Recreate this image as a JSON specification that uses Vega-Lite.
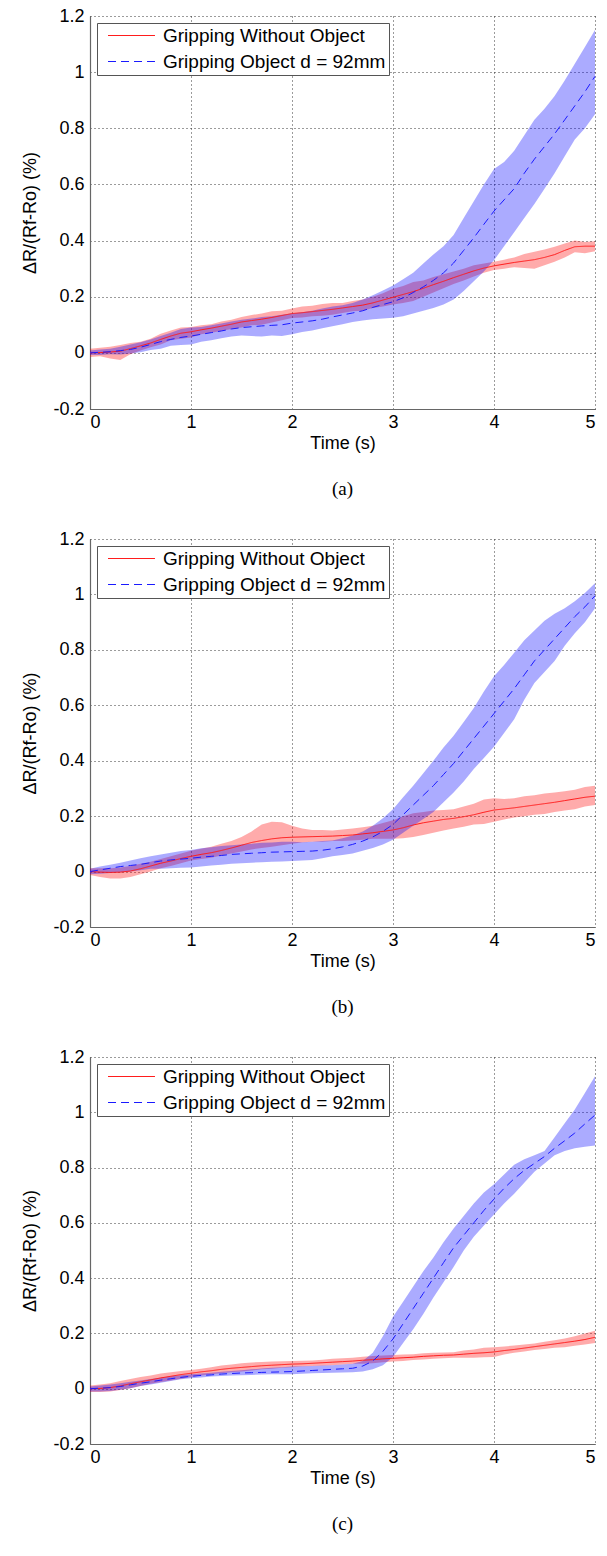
{
  "$schema": "https://vega.github.io/schema/vega-lite/v6.json",
  "padding": {"left": 21, "top": 7, "right": 5, "bottom": 5},
  "spacing": 31,
  "datasets": {
    "d": [
      {"p":"a","s":"Gripping Without Object","t":0.0,"m":0.000,"lo":-0.015,"hi":0.015},
      {"p":"a","s":"Gripping Without Object","t":0.1,"m":0.001,"lo":-0.012,"hi":0.018},
      {"p":"a","s":"Gripping Without Object","t":0.2,"m":0.003,"lo":-0.020,"hi":0.022},
      {"p":"a","s":"Gripping Without Object","t":0.3,"m":0.006,"lo":-0.025,"hi":0.028},
      {"p":"a","s":"Gripping Without Object","t":0.4,"m":0.015,"lo":-0.005,"hi":0.035},
      {"p":"a","s":"Gripping Without Object","t":0.5,"m":0.025,"lo":0.008,"hi":0.040},
      {"p":"a","s":"Gripping Without Object","t":0.6,"m":0.035,"lo":0.020,"hi":0.050},
      {"p":"a","s":"Gripping Without Object","t":0.7,"m":0.048,"lo":0.030,"hi":0.068},
      {"p":"a","s":"Gripping Without Object","t":0.8,"m":0.060,"lo":0.045,"hi":0.080},
      {"p":"a","s":"Gripping Without Object","t":0.9,"m":0.070,"lo":0.050,"hi":0.090},
      {"p":"a","s":"Gripping Without Object","t":1.0,"m":0.075,"lo":0.055,"hi":0.092},
      {"p":"a","s":"Gripping Without Object","t":1.1,"m":0.082,"lo":0.066,"hi":0.098},
      {"p":"a","s":"Gripping Without Object","t":1.2,"m":0.088,"lo":0.072,"hi":0.102},
      {"p":"a","s":"Gripping Without Object","t":1.3,"m":0.095,"lo":0.078,"hi":0.112},
      {"p":"a","s":"Gripping Without Object","t":1.4,"m":0.102,"lo":0.085,"hi":0.118},
      {"p":"a","s":"Gripping Without Object","t":1.5,"m":0.110,"lo":0.090,"hi":0.128},
      {"p":"a","s":"Gripping Without Object","t":1.6,"m":0.115,"lo":0.098,"hi":0.135},
      {"p":"a","s":"Gripping Without Object","t":1.7,"m":0.120,"lo":0.100,"hi":0.140},
      {"p":"a","s":"Gripping Without Object","t":1.8,"m":0.126,"lo":0.108,"hi":0.148},
      {"p":"a","s":"Gripping Without Object","t":1.9,"m":0.133,"lo":0.116,"hi":0.150},
      {"p":"a","s":"Gripping Without Object","t":2.0,"m":0.140,"lo":0.124,"hi":0.158},
      {"p":"a","s":"Gripping Without Object","t":2.1,"m":0.143,"lo":0.126,"hi":0.165},
      {"p":"a","s":"Gripping Without Object","t":2.2,"m":0.147,"lo":0.130,"hi":0.168},
      {"p":"a","s":"Gripping Without Object","t":2.3,"m":0.151,"lo":0.132,"hi":0.174},
      {"p":"a","s":"Gripping Without Object","t":2.4,"m":0.155,"lo":0.136,"hi":0.178},
      {"p":"a","s":"Gripping Without Object","t":2.5,"m":0.160,"lo":0.142,"hi":0.178},
      {"p":"a","s":"Gripping Without Object","t":2.6,"m":0.165,"lo":0.148,"hi":0.185},
      {"p":"a","s":"Gripping Without Object","t":2.7,"m":0.170,"lo":0.150,"hi":0.190},
      {"p":"a","s":"Gripping Without Object","t":2.8,"m":0.178,"lo":0.160,"hi":0.200},
      {"p":"a","s":"Gripping Without Object","t":2.9,"m":0.188,"lo":0.165,"hi":0.212},
      {"p":"a","s":"Gripping Without Object","t":3.0,"m":0.198,"lo":0.172,"hi":0.228},
      {"p":"a","s":"Gripping Without Object","t":3.1,"m":0.208,"lo":0.178,"hi":0.238},
      {"p":"a","s":"Gripping Without Object","t":3.2,"m":0.218,"lo":0.185,"hi":0.252},
      {"p":"a","s":"Gripping Without Object","t":3.3,"m":0.230,"lo":0.200,"hi":0.258},
      {"p":"a","s":"Gripping Without Object","t":3.4,"m":0.243,"lo":0.215,"hi":0.270},
      {"p":"a","s":"Gripping Without Object","t":3.5,"m":0.255,"lo":0.230,"hi":0.280},
      {"p":"a","s":"Gripping Without Object","t":3.6,"m":0.268,"lo":0.245,"hi":0.290},
      {"p":"a","s":"Gripping Without Object","t":3.7,"m":0.280,"lo":0.258,"hi":0.300},
      {"p":"a","s":"Gripping Without Object","t":3.8,"m":0.292,"lo":0.272,"hi":0.312},
      {"p":"a","s":"Gripping Without Object","t":3.9,"m":0.302,"lo":0.285,"hi":0.318},
      {"p":"a","s":"Gripping Without Object","t":4.0,"m":0.310,"lo":0.295,"hi":0.325},
      {"p":"a","s":"Gripping Without Object","t":4.1,"m":0.316,"lo":0.300,"hi":0.332},
      {"p":"a","s":"Gripping Without Object","t":4.2,"m":0.322,"lo":0.305,"hi":0.340},
      {"p":"a","s":"Gripping Without Object","t":4.3,"m":0.327,"lo":0.302,"hi":0.352},
      {"p":"a","s":"Gripping Without Object","t":4.4,"m":0.332,"lo":0.300,"hi":0.360},
      {"p":"a","s":"Gripping Without Object","t":4.5,"m":0.340,"lo":0.312,"hi":0.368},
      {"p":"a","s":"Gripping Without Object","t":4.6,"m":0.350,"lo":0.325,"hi":0.378},
      {"p":"a","s":"Gripping Without Object","t":4.7,"m":0.365,"lo":0.340,"hi":0.390},
      {"p":"a","s":"Gripping Without Object","t":4.8,"m":0.378,"lo":0.358,"hi":0.400},
      {"p":"a","s":"Gripping Without Object","t":4.9,"m":0.380,"lo":0.355,"hi":0.395},
      {"p":"a","s":"Gripping Without Object","t":5.0,"m":0.380,"lo":0.362,"hi":0.398},
      {"p":"a","s":"Gripping Object d = 92mm","t":0.0,"m":0.000,"lo":-0.008,"hi":0.008},
      {"p":"a","s":"Gripping Object d = 92mm","t":0.1,"m":0.002,"lo":-0.008,"hi":0.012},
      {"p":"a","s":"Gripping Object d = 92mm","t":0.2,"m":0.004,"lo":-0.005,"hi":0.015},
      {"p":"a","s":"Gripping Object d = 92mm","t":0.3,"m":0.008,"lo":-0.006,"hi":0.022},
      {"p":"a","s":"Gripping Object d = 92mm","t":0.4,"m":0.012,"lo":-0.002,"hi":0.030},
      {"p":"a","s":"Gripping Object d = 92mm","t":0.5,"m":0.020,"lo":0.002,"hi":0.038},
      {"p":"a","s":"Gripping Object d = 92mm","t":0.6,"m":0.030,"lo":0.010,"hi":0.048},
      {"p":"a","s":"Gripping Object d = 92mm","t":0.7,"m":0.040,"lo":0.015,"hi":0.060},
      {"p":"a","s":"Gripping Object d = 92mm","t":0.8,"m":0.048,"lo":0.025,"hi":0.072},
      {"p":"a","s":"Gripping Object d = 92mm","t":0.9,"m":0.055,"lo":0.028,"hi":0.085},
      {"p":"a","s":"Gripping Object d = 92mm","t":1.0,"m":0.060,"lo":0.030,"hi":0.090},
      {"p":"a","s":"Gripping Object d = 92mm","t":1.1,"m":0.066,"lo":0.040,"hi":0.092},
      {"p":"a","s":"Gripping Object d = 92mm","t":1.2,"m":0.072,"lo":0.045,"hi":0.098},
      {"p":"a","s":"Gripping Object d = 92mm","t":1.3,"m":0.078,"lo":0.052,"hi":0.105},
      {"p":"a","s":"Gripping Object d = 92mm","t":1.4,"m":0.085,"lo":0.058,"hi":0.112},
      {"p":"a","s":"Gripping Object d = 92mm","t":1.5,"m":0.090,"lo":0.062,"hi":0.118},
      {"p":"a","s":"Gripping Object d = 92mm","t":1.6,"m":0.093,"lo":0.060,"hi":0.122},
      {"p":"a","s":"Gripping Object d = 92mm","t":1.7,"m":0.096,"lo":0.058,"hi":0.128},
      {"p":"a","s":"Gripping Object d = 92mm","t":1.8,"m":0.098,"lo":0.062,"hi":0.130},
      {"p":"a","s":"Gripping Object d = 92mm","t":1.9,"m":0.100,"lo":0.060,"hi":0.136},
      {"p":"a","s":"Gripping Object d = 92mm","t":2.0,"m":0.106,"lo":0.066,"hi":0.140},
      {"p":"a","s":"Gripping Object d = 92mm","t":2.1,"m":0.110,"lo":0.074,"hi":0.145},
      {"p":"a","s":"Gripping Object d = 92mm","t":2.2,"m":0.114,"lo":0.080,"hi":0.150},
      {"p":"a","s":"Gripping Object d = 92mm","t":2.3,"m":0.120,"lo":0.088,"hi":0.158},
      {"p":"a","s":"Gripping Object d = 92mm","t":2.4,"m":0.128,"lo":0.095,"hi":0.165},
      {"p":"a","s":"Gripping Object d = 92mm","t":2.5,"m":0.135,"lo":0.102,"hi":0.170},
      {"p":"a","s":"Gripping Object d = 92mm","t":2.6,"m":0.142,"lo":0.110,"hi":0.178},
      {"p":"a","s":"Gripping Object d = 92mm","t":2.7,"m":0.150,"lo":0.115,"hi":0.190},
      {"p":"a","s":"Gripping Object d = 92mm","t":2.8,"m":0.162,"lo":0.120,"hi":0.205},
      {"p":"a","s":"Gripping Object d = 92mm","t":2.9,"m":0.172,"lo":0.122,"hi":0.222},
      {"p":"a","s":"Gripping Object d = 92mm","t":3.0,"m":0.182,"lo":0.125,"hi":0.240},
      {"p":"a","s":"Gripping Object d = 92mm","t":3.1,"m":0.196,"lo":0.130,"hi":0.262},
      {"p":"a","s":"Gripping Object d = 92mm","t":3.2,"m":0.215,"lo":0.140,"hi":0.285},
      {"p":"a","s":"Gripping Object d = 92mm","t":3.3,"m":0.235,"lo":0.150,"hi":0.318},
      {"p":"a","s":"Gripping Object d = 92mm","t":3.4,"m":0.258,"lo":0.160,"hi":0.350},
      {"p":"a","s":"Gripping Object d = 92mm","t":3.5,"m":0.285,"lo":0.172,"hi":0.380},
      {"p":"a","s":"Gripping Object d = 92mm","t":3.6,"m":0.320,"lo":0.190,"hi":0.420},
      {"p":"a","s":"Gripping Object d = 92mm","t":3.7,"m":0.365,"lo":0.220,"hi":0.480},
      {"p":"a","s":"Gripping Object d = 92mm","t":3.8,"m":0.410,"lo":0.255,"hi":0.540},
      {"p":"a","s":"Gripping Object d = 92mm","t":3.9,"m":0.458,"lo":0.290,"hi":0.600},
      {"p":"a","s":"Gripping Object d = 92mm","t":4.0,"m":0.505,"lo":0.330,"hi":0.655},
      {"p":"a","s":"Gripping Object d = 92mm","t":4.1,"m":0.545,"lo":0.380,"hi":0.680},
      {"p":"a","s":"Gripping Object d = 92mm","t":4.2,"m":0.585,"lo":0.430,"hi":0.720},
      {"p":"a","s":"Gripping Object d = 92mm","t":4.3,"m":0.640,"lo":0.480,"hi":0.775},
      {"p":"a","s":"Gripping Object d = 92mm","t":4.4,"m":0.690,"lo":0.530,"hi":0.830},
      {"p":"a","s":"Gripping Object d = 92mm","t":4.5,"m":0.735,"lo":0.585,"hi":0.870},
      {"p":"a","s":"Gripping Object d = 92mm","t":4.6,"m":0.780,"lo":0.640,"hi":0.915},
      {"p":"a","s":"Gripping Object d = 92mm","t":4.7,"m":0.830,"lo":0.700,"hi":0.970},
      {"p":"a","s":"Gripping Object d = 92mm","t":4.8,"m":0.880,"lo":0.760,"hi":1.030},
      {"p":"a","s":"Gripping Object d = 92mm","t":4.9,"m":0.930,"lo":0.800,"hi":1.090},
      {"p":"a","s":"Gripping Object d = 92mm","t":5.0,"m":0.985,"lo":0.850,"hi":1.150},
      {"p":"b","s":"Gripping Without Object","t":0.0,"m":0.000,"lo":-0.012,"hi":0.012},
      {"p":"b","s":"Gripping Without Object","t":0.1,"m":-0.002,"lo":-0.020,"hi":0.012},
      {"p":"b","s":"Gripping Without Object","t":0.2,"m":-0.003,"lo":-0.025,"hi":0.012},
      {"p":"b","s":"Gripping Without Object","t":0.3,"m":-0.002,"lo":-0.025,"hi":0.015},
      {"p":"b","s":"Gripping Without Object","t":0.4,"m":0.002,"lo":-0.020,"hi":0.020},
      {"p":"b","s":"Gripping Without Object","t":0.5,"m":0.010,"lo":-0.010,"hi":0.028},
      {"p":"b","s":"Gripping Without Object","t":0.6,"m":0.020,"lo":0.000,"hi":0.035},
      {"p":"b","s":"Gripping Without Object","t":0.7,"m":0.030,"lo":0.012,"hi":0.045},
      {"p":"b","s":"Gripping Without Object","t":0.8,"m":0.038,"lo":0.020,"hi":0.055},
      {"p":"b","s":"Gripping Without Object","t":0.9,"m":0.047,"lo":0.030,"hi":0.065},
      {"p":"b","s":"Gripping Without Object","t":1.0,"m":0.055,"lo":0.040,"hi":0.075},
      {"p":"b","s":"Gripping Without Object","t":1.1,"m":0.062,"lo":0.045,"hi":0.082},
      {"p":"b","s":"Gripping Without Object","t":1.2,"m":0.068,"lo":0.050,"hi":0.090},
      {"p":"b","s":"Gripping Without Object","t":1.3,"m":0.076,"lo":0.058,"hi":0.100},
      {"p":"b","s":"Gripping Without Object","t":1.4,"m":0.085,"lo":0.065,"hi":0.110},
      {"p":"b","s":"Gripping Without Object","t":1.5,"m":0.095,"lo":0.072,"hi":0.125},
      {"p":"b","s":"Gripping Without Object","t":1.6,"m":0.105,"lo":0.080,"hi":0.145},
      {"p":"b","s":"Gripping Without Object","t":1.7,"m":0.112,"lo":0.085,"hi":0.170},
      {"p":"b","s":"Gripping Without Object","t":1.8,"m":0.118,"lo":0.090,"hi":0.180},
      {"p":"b","s":"Gripping Without Object","t":1.9,"m":0.122,"lo":0.095,"hi":0.178},
      {"p":"b","s":"Gripping Without Object","t":2.0,"m":0.124,"lo":0.100,"hi":0.165},
      {"p":"b","s":"Gripping Without Object","t":2.1,"m":0.125,"lo":0.105,"hi":0.155},
      {"p":"b","s":"Gripping Without Object","t":2.2,"m":0.126,"lo":0.108,"hi":0.150},
      {"p":"b","s":"Gripping Without Object","t":2.3,"m":0.127,"lo":0.108,"hi":0.150},
      {"p":"b","s":"Gripping Without Object","t":2.4,"m":0.128,"lo":0.110,"hi":0.148},
      {"p":"b","s":"Gripping Without Object","t":2.5,"m":0.130,"lo":0.110,"hi":0.152},
      {"p":"b","s":"Gripping Without Object","t":2.6,"m":0.132,"lo":0.112,"hi":0.155},
      {"p":"b","s":"Gripping Without Object","t":2.7,"m":0.136,"lo":0.115,"hi":0.160},
      {"p":"b","s":"Gripping Without Object","t":2.8,"m":0.140,"lo":0.118,"hi":0.165},
      {"p":"b","s":"Gripping Without Object","t":2.9,"m":0.145,"lo":0.118,"hi":0.175},
      {"p":"b","s":"Gripping Without Object","t":3.0,"m":0.150,"lo":0.118,"hi":0.185},
      {"p":"b","s":"Gripping Without Object","t":3.1,"m":0.158,"lo":0.120,"hi":0.200},
      {"p":"b","s":"Gripping Without Object","t":3.2,"m":0.168,"lo":0.125,"hi":0.210},
      {"p":"b","s":"Gripping Without Object","t":3.3,"m":0.176,"lo":0.132,"hi":0.215},
      {"p":"b","s":"Gripping Without Object","t":3.4,"m":0.182,"lo":0.140,"hi":0.220},
      {"p":"b","s":"Gripping Without Object","t":3.5,"m":0.188,"lo":0.148,"hi":0.222},
      {"p":"b","s":"Gripping Without Object","t":3.6,"m":0.192,"lo":0.155,"hi":0.225},
      {"p":"b","s":"Gripping Without Object","t":3.7,"m":0.198,"lo":0.162,"hi":0.235},
      {"p":"b","s":"Gripping Without Object","t":3.8,"m":0.205,"lo":0.170,"hi":0.245},
      {"p":"b","s":"Gripping Without Object","t":3.9,"m":0.214,"lo":0.172,"hi":0.260},
      {"p":"b","s":"Gripping Without Object","t":4.0,"m":0.222,"lo":0.180,"hi":0.265},
      {"p":"b","s":"Gripping Without Object","t":4.1,"m":0.226,"lo":0.188,"hi":0.262},
      {"p":"b","s":"Gripping Without Object","t":4.2,"m":0.230,"lo":0.195,"hi":0.265},
      {"p":"b","s":"Gripping Without Object","t":4.3,"m":0.235,"lo":0.200,"hi":0.272},
      {"p":"b","s":"Gripping Without Object","t":4.4,"m":0.240,"lo":0.205,"hi":0.275},
      {"p":"b","s":"Gripping Without Object","t":4.5,"m":0.245,"lo":0.208,"hi":0.282},
      {"p":"b","s":"Gripping Without Object","t":4.6,"m":0.250,"lo":0.215,"hi":0.285},
      {"p":"b","s":"Gripping Without Object","t":4.7,"m":0.256,"lo":0.220,"hi":0.290},
      {"p":"b","s":"Gripping Without Object","t":4.8,"m":0.262,"lo":0.225,"hi":0.295},
      {"p":"b","s":"Gripping Without Object","t":4.9,"m":0.268,"lo":0.235,"hi":0.305},
      {"p":"b","s":"Gripping Without Object","t":5.0,"m":0.272,"lo":0.240,"hi":0.310},
      {"p":"b","s":"Gripping Object d = 92mm","t":0.0,"m":0.000,"lo":-0.010,"hi":0.010},
      {"p":"b","s":"Gripping Object d = 92mm","t":0.1,"m":0.006,"lo":-0.008,"hi":0.018},
      {"p":"b","s":"Gripping Object d = 92mm","t":0.2,"m":0.012,"lo":-0.005,"hi":0.025},
      {"p":"b","s":"Gripping Object d = 92mm","t":0.3,"m":0.018,"lo":-0.002,"hi":0.032},
      {"p":"b","s":"Gripping Object d = 92mm","t":0.4,"m":0.022,"lo":0.000,"hi":0.040},
      {"p":"b","s":"Gripping Object d = 92mm","t":0.5,"m":0.026,"lo":0.005,"hi":0.048},
      {"p":"b","s":"Gripping Object d = 92mm","t":0.6,"m":0.032,"lo":0.010,"hi":0.055},
      {"p":"b","s":"Gripping Object d = 92mm","t":0.7,"m":0.038,"lo":0.010,"hi":0.062},
      {"p":"b","s":"Gripping Object d = 92mm","t":0.8,"m":0.042,"lo":0.012,"hi":0.068},
      {"p":"b","s":"Gripping Object d = 92mm","t":0.9,"m":0.045,"lo":0.014,"hi":0.074},
      {"p":"b","s":"Gripping Object d = 92mm","t":1.0,"m":0.048,"lo":0.015,"hi":0.078},
      {"p":"b","s":"Gripping Object d = 92mm","t":1.1,"m":0.052,"lo":0.018,"hi":0.084},
      {"p":"b","s":"Gripping Object d = 92mm","t":1.2,"m":0.055,"lo":0.022,"hi":0.088},
      {"p":"b","s":"Gripping Object d = 92mm","t":1.3,"m":0.058,"lo":0.025,"hi":0.092},
      {"p":"b","s":"Gripping Object d = 92mm","t":1.4,"m":0.062,"lo":0.028,"hi":0.095},
      {"p":"b","s":"Gripping Object d = 92mm","t":1.5,"m":0.064,"lo":0.030,"hi":0.098},
      {"p":"b","s":"Gripping Object d = 92mm","t":1.6,"m":0.066,"lo":0.032,"hi":0.100},
      {"p":"b","s":"Gripping Object d = 92mm","t":1.7,"m":0.068,"lo":0.034,"hi":0.104},
      {"p":"b","s":"Gripping Object d = 92mm","t":1.8,"m":0.070,"lo":0.035,"hi":0.105},
      {"p":"b","s":"Gripping Object d = 92mm","t":1.9,"m":0.071,"lo":0.036,"hi":0.108},
      {"p":"b","s":"Gripping Object d = 92mm","t":2.0,"m":0.072,"lo":0.038,"hi":0.108},
      {"p":"b","s":"Gripping Object d = 92mm","t":2.1,"m":0.073,"lo":0.040,"hi":0.106},
      {"p":"b","s":"Gripping Object d = 92mm","t":2.2,"m":0.074,"lo":0.042,"hi":0.108},
      {"p":"b","s":"Gripping Object d = 92mm","t":2.3,"m":0.077,"lo":0.048,"hi":0.110},
      {"p":"b","s":"Gripping Object d = 92mm","t":2.4,"m":0.082,"lo":0.055,"hi":0.112},
      {"p":"b","s":"Gripping Object d = 92mm","t":2.5,"m":0.089,"lo":0.060,"hi":0.120},
      {"p":"b","s":"Gripping Object d = 92mm","t":2.6,"m":0.098,"lo":0.065,"hi":0.130},
      {"p":"b","s":"Gripping Object d = 92mm","t":2.7,"m":0.110,"lo":0.075,"hi":0.145},
      {"p":"b","s":"Gripping Object d = 92mm","t":2.8,"m":0.125,"lo":0.085,"hi":0.165},
      {"p":"b","s":"Gripping Object d = 92mm","t":2.9,"m":0.145,"lo":0.098,"hi":0.192},
      {"p":"b","s":"Gripping Object d = 92mm","t":3.0,"m":0.170,"lo":0.115,"hi":0.225},
      {"p":"b","s":"Gripping Object d = 92mm","t":3.1,"m":0.205,"lo":0.140,"hi":0.268},
      {"p":"b","s":"Gripping Object d = 92mm","t":3.2,"m":0.240,"lo":0.165,"hi":0.310},
      {"p":"b","s":"Gripping Object d = 92mm","t":3.3,"m":0.275,"lo":0.190,"hi":0.355},
      {"p":"b","s":"Gripping Object d = 92mm","t":3.4,"m":0.310,"lo":0.215,"hi":0.400},
      {"p":"b","s":"Gripping Object d = 92mm","t":3.5,"m":0.350,"lo":0.250,"hi":0.448},
      {"p":"b","s":"Gripping Object d = 92mm","t":3.6,"m":0.390,"lo":0.285,"hi":0.490},
      {"p":"b","s":"Gripping Object d = 92mm","t":3.7,"m":0.435,"lo":0.325,"hi":0.540},
      {"p":"b","s":"Gripping Object d = 92mm","t":3.8,"m":0.480,"lo":0.370,"hi":0.590},
      {"p":"b","s":"Gripping Object d = 92mm","t":3.9,"m":0.525,"lo":0.410,"hi":0.650},
      {"p":"b","s":"Gripping Object d = 92mm","t":4.0,"m":0.570,"lo":0.450,"hi":0.705},
      {"p":"b","s":"Gripping Object d = 92mm","t":4.1,"m":0.615,"lo":0.500,"hi":0.745},
      {"p":"b","s":"Gripping Object d = 92mm","t":4.2,"m":0.660,"lo":0.550,"hi":0.790},
      {"p":"b","s":"Gripping Object d = 92mm","t":4.3,"m":0.710,"lo":0.620,"hi":0.835},
      {"p":"b","s":"Gripping Object d = 92mm","t":4.4,"m":0.760,"lo":0.680,"hi":0.870},
      {"p":"b","s":"Gripping Object d = 92mm","t":4.5,"m":0.800,"lo":0.720,"hi":0.905},
      {"p":"b","s":"Gripping Object d = 92mm","t":4.6,"m":0.840,"lo":0.760,"hi":0.930},
      {"p":"b","s":"Gripping Object d = 92mm","t":4.7,"m":0.880,"lo":0.815,"hi":0.950},
      {"p":"b","s":"Gripping Object d = 92mm","t":4.8,"m":0.920,"lo":0.860,"hi":0.975},
      {"p":"b","s":"Gripping Object d = 92mm","t":4.9,"m":0.955,"lo":0.900,"hi":1.005},
      {"p":"b","s":"Gripping Object d = 92mm","t":5.0,"m":0.995,"lo":0.950,"hi":1.040},
      {"p":"c","s":"Gripping Without Object","t":0.0,"m":0.000,"lo":-0.012,"hi":0.012},
      {"p":"c","s":"Gripping Without Object","t":0.1,"m":0.001,"lo":-0.012,"hi":0.015},
      {"p":"c","s":"Gripping Without Object","t":0.2,"m":0.004,"lo":-0.010,"hi":0.020},
      {"p":"c","s":"Gripping Without Object","t":0.3,"m":0.010,"lo":-0.005,"hi":0.028},
      {"p":"c","s":"Gripping Without Object","t":0.4,"m":0.018,"lo":0.002,"hi":0.035},
      {"p":"c","s":"Gripping Without Object","t":0.5,"m":0.025,"lo":0.010,"hi":0.042},
      {"p":"c","s":"Gripping Without Object","t":0.6,"m":0.032,"lo":0.018,"hi":0.048},
      {"p":"c","s":"Gripping Without Object","t":0.7,"m":0.039,"lo":0.024,"hi":0.055},
      {"p":"c","s":"Gripping Without Object","t":0.8,"m":0.045,"lo":0.030,"hi":0.060},
      {"p":"c","s":"Gripping Without Object","t":0.9,"m":0.051,"lo":0.036,"hi":0.064},
      {"p":"c","s":"Gripping Without Object","t":1.0,"m":0.056,"lo":0.042,"hi":0.068},
      {"p":"c","s":"Gripping Without Object","t":1.1,"m":0.061,"lo":0.048,"hi":0.072},
      {"p":"c","s":"Gripping Without Object","t":1.2,"m":0.065,"lo":0.052,"hi":0.078},
      {"p":"c","s":"Gripping Without Object","t":1.3,"m":0.070,"lo":0.056,"hi":0.084},
      {"p":"c","s":"Gripping Without Object","t":1.4,"m":0.074,"lo":0.060,"hi":0.088},
      {"p":"c","s":"Gripping Without Object","t":1.5,"m":0.077,"lo":0.062,"hi":0.092},
      {"p":"c","s":"Gripping Without Object","t":1.6,"m":0.080,"lo":0.066,"hi":0.095},
      {"p":"c","s":"Gripping Without Object","t":1.7,"m":0.083,"lo":0.070,"hi":0.097},
      {"p":"c","s":"Gripping Without Object","t":1.8,"m":0.085,"lo":0.072,"hi":0.098},
      {"p":"c","s":"Gripping Without Object","t":1.9,"m":0.087,"lo":0.076,"hi":0.099},
      {"p":"c","s":"Gripping Without Object","t":2.0,"m":0.089,"lo":0.078,"hi":0.100},
      {"p":"c","s":"Gripping Without Object","t":2.1,"m":0.090,"lo":0.080,"hi":0.101},
      {"p":"c","s":"Gripping Without Object","t":2.2,"m":0.092,"lo":0.082,"hi":0.102},
      {"p":"c","s":"Gripping Without Object","t":2.3,"m":0.094,"lo":0.083,"hi":0.105},
      {"p":"c","s":"Gripping Without Object","t":2.4,"m":0.096,"lo":0.085,"hi":0.108},
      {"p":"c","s":"Gripping Without Object","t":2.5,"m":0.098,"lo":0.088,"hi":0.110},
      {"p":"c","s":"Gripping Without Object","t":2.6,"m":0.100,"lo":0.090,"hi":0.112},
      {"p":"c","s":"Gripping Without Object","t":2.7,"m":0.103,"lo":0.090,"hi":0.116},
      {"p":"c","s":"Gripping Without Object","t":2.8,"m":0.105,"lo":0.092,"hi":0.118},
      {"p":"c","s":"Gripping Without Object","t":2.9,"m":0.108,"lo":0.096,"hi":0.120},
      {"p":"c","s":"Gripping Without Object","t":3.0,"m":0.110,"lo":0.098,"hi":0.122},
      {"p":"c","s":"Gripping Without Object","t":3.1,"m":0.112,"lo":0.100,"hi":0.124},
      {"p":"c","s":"Gripping Without Object","t":3.2,"m":0.114,"lo":0.104,"hi":0.125},
      {"p":"c","s":"Gripping Without Object","t":3.3,"m":0.117,"lo":0.106,"hi":0.128},
      {"p":"c","s":"Gripping Without Object","t":3.4,"m":0.119,"lo":0.108,"hi":0.130},
      {"p":"c","s":"Gripping Without Object","t":3.5,"m":0.121,"lo":0.110,"hi":0.131},
      {"p":"c","s":"Gripping Without Object","t":3.6,"m":0.122,"lo":0.112,"hi":0.132},
      {"p":"c","s":"Gripping Without Object","t":3.7,"m":0.125,"lo":0.112,"hi":0.138},
      {"p":"c","s":"Gripping Without Object","t":3.8,"m":0.128,"lo":0.112,"hi":0.142},
      {"p":"c","s":"Gripping Without Object","t":3.9,"m":0.130,"lo":0.114,"hi":0.148},
      {"p":"c","s":"Gripping Without Object","t":4.0,"m":0.133,"lo":0.115,"hi":0.150},
      {"p":"c","s":"Gripping Without Object","t":4.1,"m":0.138,"lo":0.124,"hi":0.153},
      {"p":"c","s":"Gripping Without Object","t":4.2,"m":0.142,"lo":0.130,"hi":0.156},
      {"p":"c","s":"Gripping Without Object","t":4.3,"m":0.147,"lo":0.135,"hi":0.160},
      {"p":"c","s":"Gripping Without Object","t":4.4,"m":0.152,"lo":0.140,"hi":0.164},
      {"p":"c","s":"Gripping Without Object","t":4.5,"m":0.157,"lo":0.144,"hi":0.170},
      {"p":"c","s":"Gripping Without Object","t":4.6,"m":0.162,"lo":0.148,"hi":0.175},
      {"p":"c","s":"Gripping Without Object","t":4.7,"m":0.167,"lo":0.150,"hi":0.182},
      {"p":"c","s":"Gripping Without Object","t":4.8,"m":0.172,"lo":0.155,"hi":0.190},
      {"p":"c","s":"Gripping Without Object","t":4.9,"m":0.178,"lo":0.160,"hi":0.200},
      {"p":"c","s":"Gripping Without Object","t":5.0,"m":0.186,"lo":0.165,"hi":0.210},
      {"p":"c","s":"Gripping Object d = 92mm","t":0.0,"m":0.000,"lo":-0.010,"hi":0.008},
      {"p":"c","s":"Gripping Object d = 92mm","t":0.1,"m":0.002,"lo":-0.010,"hi":0.012},
      {"p":"c","s":"Gripping Object d = 92mm","t":0.2,"m":0.004,"lo":-0.008,"hi":0.015},
      {"p":"c","s":"Gripping Object d = 92mm","t":0.3,"m":0.008,"lo":-0.004,"hi":0.020},
      {"p":"c","s":"Gripping Object d = 92mm","t":0.4,"m":0.014,"lo":0.002,"hi":0.025},
      {"p":"c","s":"Gripping Object d = 92mm","t":0.5,"m":0.020,"lo":0.010,"hi":0.030},
      {"p":"c","s":"Gripping Object d = 92mm","t":0.6,"m":0.025,"lo":0.015,"hi":0.035},
      {"p":"c","s":"Gripping Object d = 92mm","t":0.7,"m":0.031,"lo":0.022,"hi":0.040},
      {"p":"c","s":"Gripping Object d = 92mm","t":0.8,"m":0.036,"lo":0.028,"hi":0.045},
      {"p":"c","s":"Gripping Object d = 92mm","t":0.9,"m":0.041,"lo":0.034,"hi":0.049},
      {"p":"c","s":"Gripping Object d = 92mm","t":1.0,"m":0.045,"lo":0.038,"hi":0.052},
      {"p":"c","s":"Gripping Object d = 92mm","t":1.1,"m":0.048,"lo":0.041,"hi":0.055},
      {"p":"c","s":"Gripping Object d = 92mm","t":1.2,"m":0.050,"lo":0.044,"hi":0.058},
      {"p":"c","s":"Gripping Object d = 92mm","t":1.3,"m":0.053,"lo":0.046,"hi":0.061},
      {"p":"c","s":"Gripping Object d = 92mm","t":1.4,"m":0.055,"lo":0.048,"hi":0.064},
      {"p":"c","s":"Gripping Object d = 92mm","t":1.5,"m":0.057,"lo":0.049,"hi":0.067},
      {"p":"c","s":"Gripping Object d = 92mm","t":1.6,"m":0.058,"lo":0.050,"hi":0.070},
      {"p":"c","s":"Gripping Object d = 92mm","t":1.7,"m":0.059,"lo":0.051,"hi":0.073},
      {"p":"c","s":"Gripping Object d = 92mm","t":1.8,"m":0.060,"lo":0.052,"hi":0.076},
      {"p":"c","s":"Gripping Object d = 92mm","t":1.9,"m":0.061,"lo":0.052,"hi":0.078},
      {"p":"c","s":"Gripping Object d = 92mm","t":2.0,"m":0.062,"lo":0.052,"hi":0.080},
      {"p":"c","s":"Gripping Object d = 92mm","t":2.1,"m":0.064,"lo":0.054,"hi":0.081},
      {"p":"c","s":"Gripping Object d = 92mm","t":2.2,"m":0.066,"lo":0.056,"hi":0.082},
      {"p":"c","s":"Gripping Object d = 92mm","t":2.3,"m":0.068,"lo":0.057,"hi":0.084},
      {"p":"c","s":"Gripping Object d = 92mm","t":2.4,"m":0.070,"lo":0.058,"hi":0.085},
      {"p":"c","s":"Gripping Object d = 92mm","t":2.5,"m":0.072,"lo":0.059,"hi":0.088},
      {"p":"c","s":"Gripping Object d = 92mm","t":2.6,"m":0.074,"lo":0.060,"hi":0.090},
      {"p":"c","s":"Gripping Object d = 92mm","t":2.7,"m":0.082,"lo":0.062,"hi":0.100},
      {"p":"c","s":"Gripping Object d = 92mm","t":2.8,"m":0.100,"lo":0.070,"hi":0.130},
      {"p":"c","s":"Gripping Object d = 92mm","t":2.9,"m":0.135,"lo":0.085,"hi":0.190},
      {"p":"c","s":"Gripping Object d = 92mm","t":3.0,"m":0.180,"lo":0.115,"hi":0.260},
      {"p":"c","s":"Gripping Object d = 92mm","t":3.1,"m":0.235,"lo":0.165,"hi":0.315},
      {"p":"c","s":"Gripping Object d = 92mm","t":3.2,"m":0.290,"lo":0.215,"hi":0.370},
      {"p":"c","s":"Gripping Object d = 92mm","t":3.3,"m":0.345,"lo":0.270,"hi":0.425},
      {"p":"c","s":"Gripping Object d = 92mm","t":3.4,"m":0.400,"lo":0.330,"hi":0.475},
      {"p":"c","s":"Gripping Object d = 92mm","t":3.5,"m":0.456,"lo":0.385,"hi":0.530},
      {"p":"c","s":"Gripping Object d = 92mm","t":3.6,"m":0.510,"lo":0.440,"hi":0.580},
      {"p":"c","s":"Gripping Object d = 92mm","t":3.7,"m":0.555,"lo":0.500,"hi":0.625},
      {"p":"c","s":"Gripping Object d = 92mm","t":3.8,"m":0.600,"lo":0.550,"hi":0.670},
      {"p":"c","s":"Gripping Object d = 92mm","t":3.9,"m":0.645,"lo":0.590,"hi":0.710},
      {"p":"c","s":"Gripping Object d = 92mm","t":4.0,"m":0.686,"lo":0.630,"hi":0.740},
      {"p":"c","s":"Gripping Object d = 92mm","t":4.1,"m":0.725,"lo":0.670,"hi":0.775},
      {"p":"c","s":"Gripping Object d = 92mm","t":4.2,"m":0.760,"lo":0.705,"hi":0.810},
      {"p":"c","s":"Gripping Object d = 92mm","t":4.3,"m":0.790,"lo":0.745,"hi":0.830},
      {"p":"c","s":"Gripping Object d = 92mm","t":4.4,"m":0.815,"lo":0.785,"hi":0.845},
      {"p":"c","s":"Gripping Object d = 92mm","t":4.5,"m":0.840,"lo":0.815,"hi":0.860},
      {"p":"c","s":"Gripping Object d = 92mm","t":4.6,"m":0.870,"lo":0.845,"hi":0.910},
      {"p":"c","s":"Gripping Object d = 92mm","t":4.7,"m":0.897,"lo":0.860,"hi":0.960},
      {"p":"c","s":"Gripping Object d = 92mm","t":4.8,"m":0.925,"lo":0.870,"hi":1.010},
      {"p":"c","s":"Gripping Object d = 92mm","t":4.9,"m":0.958,"lo":0.875,"hi":1.070},
      {"p":"c","s":"Gripping Object d = 92mm","t":5.0,"m":0.990,"lo":0.880,"hi":1.130}
    ]
  },
  "config": {
    "font": "Liberation Sans",
    "view": {"stroke": null},
    "axis": {
      "labelFont": "Liberation Sans", "labelFontSize": 18, "labelColor": "#000",
      "titleFont": "Liberation Sans", "titleFontSize": 18, "titleFontWeight": "normal", "titleColor": "#000",
      "grid": true, "gridColor": "#222", "gridDash": [1, 3], "gridOpacity": 0.9,
      "domainColor": "#666", "domainWidth": 1.2, "ticks": false
    },
    "legend": {
      "orient": "top-left", "offset": 7, "fillColor": "#ffffff", "strokeColor": "#555", "padding": 3,
      "labelFont": "Liberation Sans", "labelFontSize": 19, "labelColor": "#000", "labelLimit": 500,
      "symbolType": "M-3,0H3", "symbolSize": 245, "symbolStrokeWidth": 1, "symbolOffset": 22, "rowPadding": 6, "labelOffset": 22
    },
    "title": {"font": "Liberation Serif", "fontSize": 19, "fontWeight": "normal", "color": "#000", "orient": "bottom", "offset": 28}
  },
  "resolve": {
    "scale": {"x": "independent", "y": "independent"},
    "axis": {"x": "independent", "y": "independent"},
    "legend": {"color": "independent"}
  },
  "vconcat": [
    {
      "width": 505, "height": 393,
      "title": "(a)",
      "data": {"name": "d"},
      "transform": [{"filter": "datum.p === 'a'"}],
      "encoding": {
        "x": {"field": "t", "type": "quantitative", "scale": {"domain": [0, 5], "nice": false}, "axis": {"values": [0, 1, 2, 3, 4, 5], "format": "d", "title": "Time (s)", "labelPadding": 4, "titlePadding": 3}}
      },
      "layer": [
        {
          "mark": {"type": "area", "opacity": 0.33},
          "encoding": {
            "y": {"field": "lo", "type": "quantitative", "scale": {"domain": [-0.2, 1.2], "nice": false, "zero": false}, "axis": {"values": [-0.2, 0, 0.2, 0.4, 0.6, 0.8, 1, 1.2], "format": "~f", "labelExpr": "datum.value < -0.1 ? '-0.2' : datum.label", "title": "ΔR/(Rf-Ro) (%)", "labelPadding": 6, "titlePadding": 13}},
            "y2": {"field": "hi"},
            "fill": {"field": "s", "type": "nominal", "scale": {"domain": ["Gripping Without Object", "Gripping Object d = 92mm"], "range": ["#ff0000", "#0000ff"]}, "legend": null}
          }
        },
        {
          "mark": {"type": "line", "strokeWidth": 1},
          "encoding": {
            "y": {"field": "m", "type": "quantitative"},
            "color": {"field": "s", "type": "nominal", "scale": {"domain": ["Gripping Without Object", "Gripping Object d = 92mm"], "range": ["#ff1a1a", "#1a1aff"]}, "legend": {"title": null, "encoding": {"symbols": {"stroke": {"condition": {"test": "datum.value === 'Gripping Object d = 92mm'", "value": "#1a1aff"}, "value": "#ff1a1a"}, "strokeDash": {"condition": {"test": "datum.value === 'Gripping Object d = 92mm'", "value": [8, 5]}, "value": [1, 0]}}}}},
            "strokeDash": {"field": "s", "type": "nominal", "scale": {"domain": ["Gripping Without Object", "Gripping Object d = 92mm"], "range": [[1, 0], [8, 5]]}, "legend": null}
          }
        }
      ]
    },
    {
      "width": 505, "height": 388,
      "title": "(b)",
      "data": {"name": "d"},
      "transform": [{"filter": "datum.p === 'b'"}],
      "encoding": {
        "x": {"field": "t", "type": "quantitative", "scale": {"domain": [0, 5], "nice": false}, "axis": {"values": [0, 1, 2, 3, 4, 5], "format": "d", "title": "Time (s)", "labelPadding": 4, "titlePadding": 3}}
      },
      "layer": [
        {
          "mark": {"type": "area", "opacity": 0.33},
          "encoding": {
            "y": {"field": "lo", "type": "quantitative", "scale": {"domain": [-0.2, 1.2], "nice": false, "zero": false}, "axis": {"values": [-0.2, 0, 0.2, 0.4, 0.6, 0.8, 1, 1.2], "format": "~f", "labelExpr": "datum.value < -0.1 ? '-0.2' : datum.label", "title": "ΔR/(Rf-Ro) (%)", "labelPadding": 6, "titlePadding": 13}},
            "y2": {"field": "hi"},
            "fill": {"field": "s", "type": "nominal", "scale": {"domain": ["Gripping Without Object", "Gripping Object d = 92mm"], "range": ["#ff0000", "#0000ff"]}, "legend": null}
          }
        },
        {
          "mark": {"type": "line", "strokeWidth": 1},
          "encoding": {
            "y": {"field": "m", "type": "quantitative"},
            "color": {"field": "s", "type": "nominal", "scale": {"domain": ["Gripping Without Object", "Gripping Object d = 92mm"], "range": ["#ff1a1a", "#1a1aff"]}, "legend": {"title": null, "encoding": {"symbols": {"stroke": {"condition": {"test": "datum.value === 'Gripping Object d = 92mm'", "value": "#1a1aff"}, "value": "#ff1a1a"}, "strokeDash": {"condition": {"test": "datum.value === 'Gripping Object d = 92mm'", "value": [8, 5]}, "value": [1, 0]}}}}},
            "strokeDash": {"field": "s", "type": "nominal", "scale": {"domain": ["Gripping Without Object", "Gripping Object d = 92mm"], "range": [[1, 0], [8, 5]]}, "legend": null}
          }
        }
      ]
    },
    {
      "width": 505, "height": 387,
      "title": "(c)",
      "data": {"name": "d"},
      "transform": [{"filter": "datum.p === 'c'"}],
      "encoding": {
        "x": {"field": "t", "type": "quantitative", "scale": {"domain": [0, 5], "nice": false}, "axis": {"values": [0, 1, 2, 3, 4, 5], "format": "d", "title": "Time (s)", "labelPadding": 4, "titlePadding": 3}}
      },
      "layer": [
        {
          "mark": {"type": "area", "opacity": 0.33},
          "encoding": {
            "y": {"field": "lo", "type": "quantitative", "scale": {"domain": [-0.2, 1.2], "nice": false, "zero": false}, "axis": {"values": [-0.2, 0, 0.2, 0.4, 0.6, 0.8, 1, 1.2], "format": "~f", "labelExpr": "datum.value < -0.1 ? '-0.2' : datum.label", "title": "ΔR/(Rf-Ro) (%)", "labelPadding": 6, "titlePadding": 13}},
            "y2": {"field": "hi"},
            "fill": {"field": "s", "type": "nominal", "scale": {"domain": ["Gripping Without Object", "Gripping Object d = 92mm"], "range": ["#ff0000", "#0000ff"]}, "legend": null}
          }
        },
        {
          "mark": {"type": "line", "strokeWidth": 1},
          "encoding": {
            "y": {"field": "m", "type": "quantitative"},
            "color": {"field": "s", "type": "nominal", "scale": {"domain": ["Gripping Without Object", "Gripping Object d = 92mm"], "range": ["#ff1a1a", "#1a1aff"]}, "legend": {"title": null, "encoding": {"symbols": {"stroke": {"condition": {"test": "datum.value === 'Gripping Object d = 92mm'", "value": "#1a1aff"}, "value": "#ff1a1a"}, "strokeDash": {"condition": {"test": "datum.value === 'Gripping Object d = 92mm'", "value": [8, 5]}, "value": [1, 0]}}}}},
            "strokeDash": {"field": "s", "type": "nominal", "scale": {"domain": ["Gripping Without Object", "Gripping Object d = 92mm"], "range": [[1, 0], [8, 5]]}, "legend": null}
          }
        }
      ]
    }
  ]
}
